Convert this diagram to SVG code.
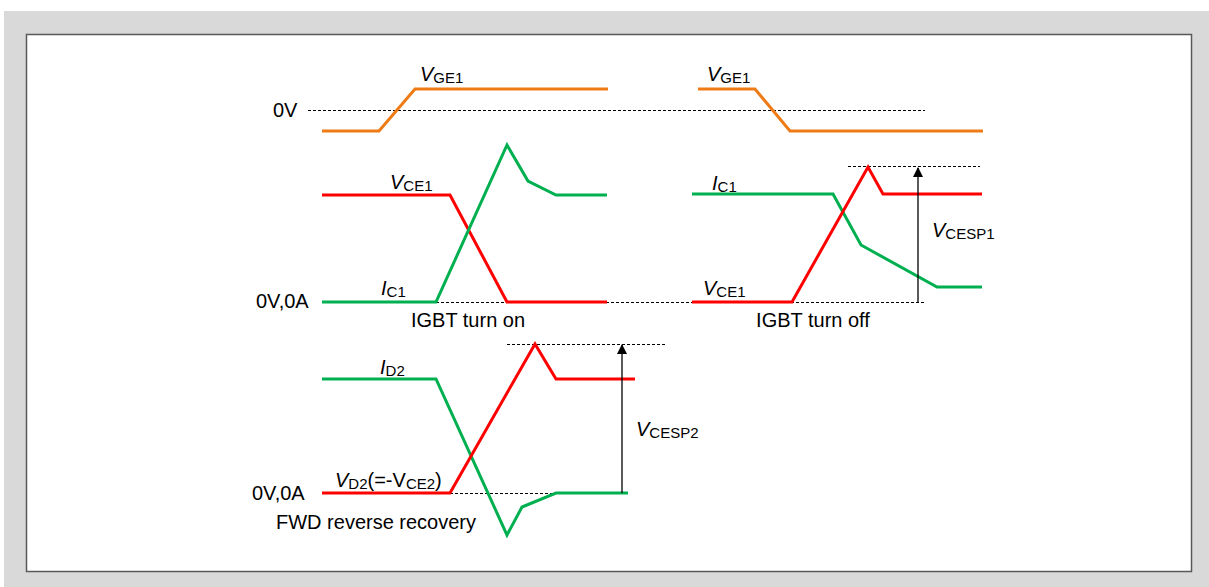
<svg xmlns="http://www.w3.org/2000/svg" width="1209" height="587" viewBox="0 0 1209 587">
<style>
.t{font-family:"Liberation Sans",Arial,sans-serif;font-size:20px;fill:#000}
.s{font-size:15px;font-style:normal}
.v{font-style:italic}
.or{fill:none;stroke:#EE7B16;stroke-width:3;stroke-linejoin:miter}
.rd{fill:none;stroke:#FF0000;stroke-width:3}
.gr{fill:none;stroke:#00B050;stroke-width:3}
.dot{fill:none;stroke:#000;stroke-width:1;stroke-dasharray:3 2}
.ar{fill:none;stroke:#000;stroke-width:1.3}
</style>
<defs>
<marker id="ah" viewBox="0 0 10 10" refX="9" refY="5" markerWidth="10" markerHeight="10" markerUnits="userSpaceOnUse" orient="auto">
<path d="M0,0 L10,5 L0,10 z" fill="#000"/>
</marker>
</defs>
<rect x="0" y="0" width="1209" height="587" fill="#fff"/>
<rect x="4" y="11" width="1205" height="576" fill="#D9D9D9"/>
<rect x="26.5" y="34.5" width="1165" height="537" fill="#fff" stroke="#595959" stroke-width="1.5"/>

<g id="guides">
<line class="dot" x1="308" y1="110.5" x2="925" y2="110.5"/>
<line class="dot" x1="436" y1="302.5" x2="925" y2="302.5"/>
<line class="dot" x1="848" y1="166.5" x2="980" y2="166.5"/>
<line class="dot" x1="450" y1="493.5" x2="556" y2="493.5"/>
<line class="dot" x1="507" y1="344.5" x2="667" y2="344.5"/>
</g>

<g id="waveforms">
<polyline id="vge-on" class="or" points="322,131 379,131 415,89 608,89"/>
<polyline id="vge-off" class="or" points="698,89 755,89 790,131 983,131"/>
<polyline id="vce-on" class="rd" points="322,195 450,195 507,302 607,302"/>
<polyline id="ic-on" class="gr" points="322,302 436,302 507,145 528,181 556,195 607,195"/>
<polyline id="ic-off" class="gr" points="692,194 833,194 861,245 937,287 982,287"/>
<polyline id="vce-off" class="rd" points="692,302 792,302 868,167 883,194 982,194"/>
<polyline id="id2" class="gr" points="322,379 436,379 507,535 522,507 556,493 628,493"/>
<polyline id="vd2" class="rd" points="322,493 450,493 535,344 556,379 635,379"/>
</g>

<g id="connectors">
<line class="ar" x1="918" y1="302" x2="918" y2="168" marker-end="url(#ah)"/>
<line class="ar" x1="622" y1="493" x2="622" y2="345" marker-end="url(#ah)"/>
</g>

<g id="labels">
<text class="t" x="273" y="117">0V</text>
<text class="t" x="256" y="308">0V,0A</text>
<text class="t" x="252" y="500">0V,0A</text>
<text class="t" x="420" y="81"><tspan class="v">V</tspan><tspan class="s" dy="2">GE1</tspan></text>
<text class="t" x="707" y="81"><tspan class="v">V</tspan><tspan class="s" dy="2">GE1</tspan></text>
<text class="t" x="390" y="189"><tspan class="v">V</tspan><tspan class="s" dy="2">CE1</tspan></text>
<text class="t" x="381" y="295"><tspan class="v">I</tspan><tspan class="s" dy="2">C1</tspan></text>
<text class="t" x="712" y="190"><tspan class="v">I</tspan><tspan class="s" dy="2">C1</tspan></text>
<text class="t" x="703" y="295"><tspan class="v">V</tspan><tspan class="s" dy="2">CE1</tspan></text>
<text class="t" x="932" y="237"><tspan class="v">V</tspan><tspan class="s" dy="2">CESP1</tspan></text>
<text class="t" x="380" y="374"><tspan class="v">I</tspan><tspan class="s" dy="2">D2</tspan></text>
<text class="t" x="636" y="436"><tspan class="v">V</tspan><tspan class="s" dy="2">CESP2</tspan></text>
<text class="t" x="335" y="487"><tspan class="v">V</tspan><tspan class="s" dy="2">D2</tspan><tspan dy="-2">(=-V</tspan><tspan class="s" dy="2">CE2</tspan><tspan dy="-2">)</tspan></text>
<text class="t" x="468" y="327" text-anchor="middle">IGBT turn on</text>
<text class="t" x="813" y="327" text-anchor="middle">IGBT turn off</text>
<text class="t" x="276" y="529">FWD reverse recovery</text>
</g>
</svg>
